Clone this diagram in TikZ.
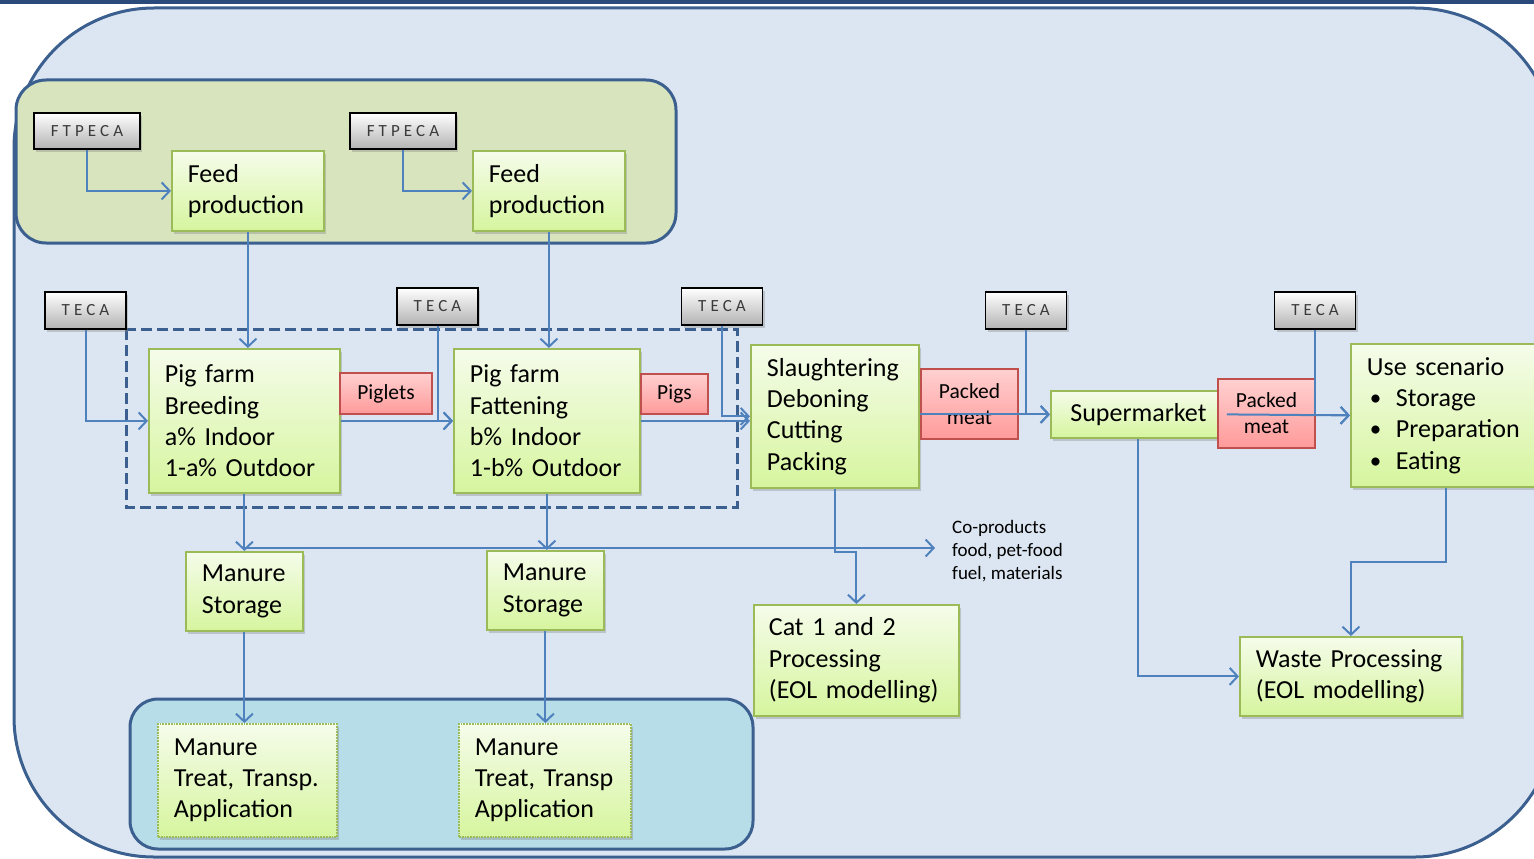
\documentclass[tikz,border=0pt]{standalone}
\usepackage{fontspec}
\setmainfont{Carlito}
\newfontfamily\tecafont[LetterSpace=24]{Carlito}
\usetikzlibrary{arrows.meta,shadows,calc}
\definecolor{bandc}{HTML}{2B4A7C}
\definecolor{bigfill}{HTML}{DCE6F2}
\definecolor{framec}{HTML}{3B5F8F}
\definecolor{ggroup}{HTML}{D7E4BD}
\definecolor{bgroup}{HTML}{B7DEE8}
\definecolor{linec}{HTML}{4F81BD}
\definecolor{gtop}{HTML}{F5FCEA}
\definecolor{gbot}{HTML}{D6F59E}
\definecolor{gborder}{HTML}{9BBB59}
\definecolor{rtop}{HTML}{FFD0D0}
\definecolor{rbot}{HTML}{FF9A9A}
\definecolor{rborder}{HTML}{C0504D}
\definecolor{tecatext}{HTML}{3A3A3A}
\newcommand\bulletitem{\makebox[29pt][l]{\hspace{3pt}\raisebox{1pt}{\fontsize{23}{23}\selectfont•}}}
\begin{document}
\begin{tikzpicture}[x=1pt,y=-1pt,
  gbox/.style={draw=gborder, line width=1.8pt, top color=gtop, bottom color=gbot,
    drop shadow={shadow xshift=2pt, shadow yshift=-3pt, opacity=0.35},
    font=\fontsize{26}{31.3}\selectfont, align=left, inner xsep=16pt, inner ysep=0pt,
    anchor=north west},
  dotbox/.style={gbox, draw=gborder, densely dotted},
  tecabox/.style={draw=black, line width=1.5pt, top color=white, bottom color=black!30,
    drop shadow={shadow xshift=2pt, shadow yshift=-3pt, opacity=0.35},
    font=\tecafont\fontsize{17}{19}\selectfont, text=tecatext, inner sep=0pt},
  rbox/.style={draw=rborder, line width=1.6pt, top color=rtop, bottom color=rbot,
    font=\fontsize{21.5}{26}\selectfont, align=center, inner sep=0pt},
  conn/.style={draw=linec, line width=2pt, -{Straight Barb[length=8pt,width=17pt]}},
  group/.style={draw=framec, line width=3pt},
]
\useasboundingbox (0,0) rectangle (1534,859);
% background
\fill[bandc] (0,0) rectangle (1534,4);
\draw[group, fill=bigfill, rounded corners=140pt] (14,8) rectangle (1555,857);
\draw[group, fill=ggroup, rounded corners=30pt] (16,80) rectangle (676,243);
\draw[group, fill=bgroup, rounded corners=28pt] (130,699) rectangle (753,849);
\draw[draw=framec, line width=3pt, dash pattern=on 11pt off 5pt] (126,329) rectangle (737,507);

% green nodes
\node[gbox, text width=120pt, minimum height=80pt] (feed1) at (171,150) {Feed\\production};
\node[gbox, text width=120pt, minimum height=80pt] (feed2) at (472,150) {Feed\\production};
\node[gbox, text width=159pt, minimum height=144pt] (breed) at (148,348) {Pig farm\\Breeding\\a\% Indoor\\1-a\% Outdoor};
\node[gbox, text width=154pt, minimum height=144pt] (fatt) at (453,348) {Pig farm\\Fattening\\b\% Indoor\\1-b\% Outdoor};
\node[gbox, text width=136pt, minimum height=143pt] (slau) at (750,344) {Slaughtering\\Deboning\\Cutting\\Packing};
\node[gbox, align=center, text width=143pt, minimum height=47pt] (super) at (1050,390) {Supermarket};
\node[gbox, text width=158pt, minimum height=143pt] (use) at (1350,343) {Use scenario\\\bulletitem Storage\\\bulletitem Preparation\\\bulletitem Eating};
\node[gbox, text width=85pt, minimum height=79pt] (ms1) at (185,551) {Manure\\Storage};
\node[gbox, text width=85pt, minimum height=79pt] (ms2) at (486,550) {Manure\\Storage};
\node[gbox, inner xsep=15pt, text width=175pt, minimum height=111pt] (cat) at (753,604) {Cat 1 and 2\\Processing\\(EOL modelling)};
\node[gbox, text width=190pt, minimum height=79pt] (waste) at (1239,636) {Waste Processing\\(EOL modelling)};
\node[dotbox, text width=147pt, minimum height=113pt] (mt1) at (157,723) {Manure\\Treat, Transp.\\Application};
\node[dotbox, text width=140pt, minimum height=113pt] (mt2) at (458,723) {Manure\\Treat, Transp\\Application};

% TECA boxes
\node[tecabox, minimum width=106pt, minimum height=36pt] (ft1) at (87,131) {FTPECA};
\node[tecabox, minimum width=106pt, minimum height=36pt] (ft2) at (403,131) {FTPECA};
\node[tecabox, minimum width=81pt, minimum height=37pt] (teca1) at (85.5,310.5) {TECA};
\node[tecabox, minimum width=81pt, minimum height=37pt] (teca2) at (437.5,306.5) {TECA};
\node[tecabox, minimum width=81pt, minimum height=37pt] (teca3) at (722,306.5) {TECA};
\node[tecabox, minimum width=81pt, minimum height=37pt] (teca4) at (1026,310.5) {TECA};
\node[tecabox, minimum width=81pt, minimum height=37pt] (teca5) at (1315,310.5) {TECA};

% red boxes
\node[rbox, minimum width=92pt, minimum height=41pt] (piglets) at (386,393.5) {Piglets};
\node[rbox, minimum width=67pt, minimum height=40pt] (pigs) at (674.5,394) {Pigs};
\node[rbox, minimum width=97pt, minimum height=70pt] (pm1) at (969.5,404) {Packed\\meat};
\node[rbox, minimum width=97pt, minimum height=69pt] (pm2) at (1266.5,413.5) {Packed\\meat};

% co-products text
\node[anchor=north west, inner sep=0pt, align=left, font=\fontsize{19}{23}\selectfont] (coprod) at (952,520) {Co-products\\food, pet-food\\fuel, materials};

\coordinate (j1) at (243.5,548);
\coordinate (cpend) at (935,548);

% connectors
\draw[conn] (ft1.south) |- (feed1.west);
\draw[conn] (ft2.south) |- (feed2.west);
\draw[conn] (feed1.south) -- (feed1.south |- breed.north);
\draw[conn] (feed2.south) -- (feed2.south |- fatt.north);
\draw[conn] (teca1.south) |- (breed.west);
\draw[conn] (teca2.south) |- (fatt.west);
\draw[conn] (breed.east) -- (fatt.west);
\draw[conn] (teca3.south) |- (slau.west);
\draw[conn] (fatt.east) -- (fatt.east -| slau.west);
\draw[conn] (teca4.south) |- (super.west);
\draw[conn] (slau.east |- super.west) -- (super.west);
\draw[conn] (teca5.south) |- (use.west);
\draw[conn] (super.east) -- (use.west);
\draw[conn] (breed.south) -- (breed.south |- ms1.north);
\draw[conn] (fatt.south) -- (fatt.south |- ms2.north);
\draw[conn] (j1) -- (cpend);
\draw[conn] (slau.south) -- ++(0,63) -| (cat.north);
\draw[conn] (super.south) |- (waste.west);
\draw[conn] (use.south) -- ++(0,74) -| (waste.north);
\draw[conn] (ms1.south) -- (ms1.south |- mt1.north);
\draw[conn] (ms2.south) -- (ms2.south |- mt2.north);
\end{tikzpicture}
\end{document}
